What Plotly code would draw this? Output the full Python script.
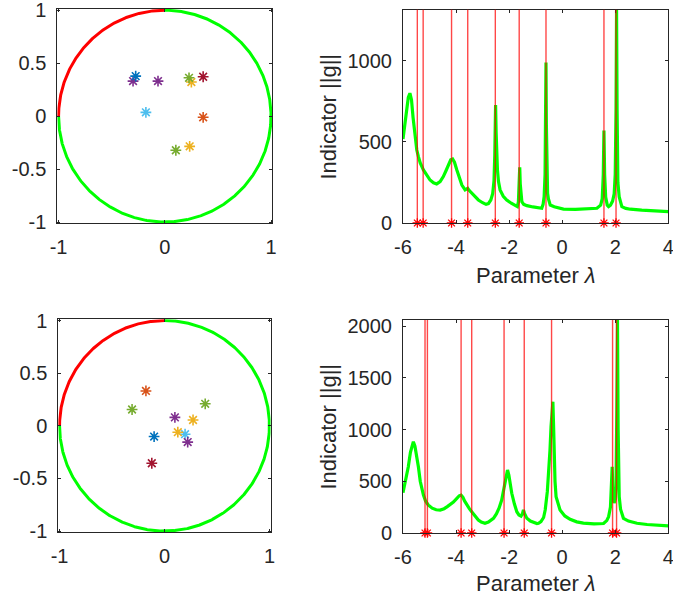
import numpy as np
import plotly.graph_objects as go

# ---------------- data ----------------
# unit-circle arcs (degrees)
red_arc_deg = [90, 180]
green_arc_deg = [180, 450]

# eigenvalues inside the unit circle
ev1_re = [0.250, -0.299, 0.228, -0.178, 0.361, -0.274, 0.361, 0.234, -0.064, 0.104]
ev1_im = [0.322, 0.331, 0.362, 0.036, 0.372, 0.378, -0.011, -0.285, 0.331, -0.322]
ev2_re = [0.272, 0.099, -0.309, 0.196, -0.121, -0.099, -0.177, 0.127, 0.221, 0.388]
ev2_im = [0.055, 0.080, 0.155, -0.080, -0.356, -0.102, 0.331, -0.061, -0.155, 0.209]

# indicator curves
lam1 = [-6.00, -5.95, -5.88, -5.80, -5.74, -5.68, -5.62, -5.55, -5.48, -5.42, -5.35, -5.23,
        -5.10, -4.98, -4.85, -4.73, -4.60, -4.48, -4.38, -4.29, -4.20, -4.13, -4.06, -3.97,
        -3.88, -3.78, -3.66, -3.60, -3.56, -3.50, -3.41, -3.30, -3.16, -3.00, -2.87, -2.78,
        -2.69, -2.62, -2.57, -2.54, -2.52, -2.51, -2.49, -2.47, -2.44, -2.40, -2.34, -2.22,
        -2.09, -1.92, -1.77, -1.69, -1.65, -1.62, -1.60, -1.58, -1.55, -1.52, -1.45, -1.33,
        -1.10, -0.90, -0.77, -0.72, -0.68, -0.645, -0.625, -0.61, -0.595, -0.575, -0.55,
        -0.52, -0.45, -0.30, 0.05, 0.50, 0.80, 1.10, 1.31, 1.45, 1.51, 1.55, 1.575, 1.60,
        1.64, 1.70, 1.75, 1.82, 1.90, 1.96, 2.00, 2.03, 2.05, 2.07, 2.10, 2.15, 2.25, 2.40,
        2.57, 3.00, 3.50, 4.00]
g1 = [518, 590, 680, 775, 800, 760, 650, 532, 450, 409, 370, 327,
      290, 265, 248, 241, 255, 286, 322, 358, 390, 395, 375, 327,
      275, 234, 204, 208, 214, 200, 183, 162, 142, 125, 115, 120,
      142, 180, 260, 420, 620, 728, 560, 420, 327, 255, 204, 165,
      142, 122, 111, 101, 130, 250, 344, 240, 160, 131, 115, 107,
      99, 93, 91, 115, 162, 300, 600, 989, 600, 300, 183,
      150, 111, 100, 86, 84, 85, 88, 91, 110, 150, 300, 570, 300,
      160, 110, 101, 110, 135, 180, 300, 700, 1315, 700, 250, 160, 101, 90,
      85, 79, 74, 70]
lines1 = [-5.46, -5.24, -4.17, -3.56, -2.52, -1.62, -0.61, 1.575, 2.03]

lam2 = [-6.00, -5.92, -5.85, -5.80, -5.72, -5.65, -5.61, -5.55, -5.48, -5.42, -5.35, -5.28,
        -5.23, -5.15, -5.05, -4.90, -4.75, -4.60, -4.45, -4.33, -4.23, -4.10, -3.97, -3.88,
        -3.81, -3.74, -3.68, -3.60, -3.50, -3.41, -3.28, -3.16, -3.05, -2.91, -2.78, -2.68,
        -2.59, -2.48, -2.38, -2.28, -2.20, -2.12, -2.06, -2.01, -1.96, -1.90, -1.80, -1.71,
        -1.63, -1.55, -1.50, -1.46, -1.42, -1.38, -1.33, -1.20, -1.08, -0.95, -0.89, -0.80,
        -0.70, -0.64, -0.56, -0.52, -0.46, -0.42, -0.38, -0.35, -0.32, -0.30, -0.27, -0.23,
        -0.15, -0.08, 0.10, 0.30, 0.55, 0.80, 1.20, 1.56, 1.68, 1.75, 1.82, 1.86, 1.885,
        1.91, 1.93, 1.96, 2.00, 2.03, 2.06, 2.085, 2.11, 2.15, 2.20, 2.31, 2.50, 2.82, 3.20,
        3.60, 4.00]
g2 = [390, 480, 570, 641, 780, 870, 883, 840, 740, 641, 500, 420,
      367, 310, 271, 240, 225, 222, 235, 255, 271, 300, 335, 360,
      367, 345, 310, 271, 235, 206, 160, 126, 105, 94, 105, 125,
      142, 185, 240, 319, 430, 560, 609, 560, 470, 384, 280, 206,
      175, 164, 185, 222, 190, 160, 142, 115, 100, 92, 94, 110,
      150, 222, 400, 545, 800, 1028, 1200, 1270, 1000, 706, 500, 351,
      270, 222, 165, 132, 108, 96, 88, 92, 120, 158, 250, 450, 641,
      400, 300, 290, 330, 450, 1200, 2060, 1000, 351, 230, 142, 115, 94, 82,
      74, 68]
lines2 = [-5.17, -5.08, -3.81, -3.41, -2.19, -1.43, -0.40, 1.90, 2.05]

# tick labels
circ_xticks = [-1, 0, 1]
circ_xtext = ["-1", "0", "1"]
circ_yticks = [-1, -0.5, 0, 0.5, 1]
circ_ytext = ["-1", "-0.5", "0", "0.5", "1"]
lam_ticks = [-6, -4, -2, 0, 2, 4]
lam_text = ["-6", "-4", "-2", "0", "2", "4"]
g1_ticks = [0, 500, 1000]
g2_ticks = [0, 500, 1000, 1500, 2000]

# ---------------- style ----------------
W, H = 673, 602
PALETTE = ["#0072BD", "#D95319", "#EDB120", "#7E2F8E", "#77AC30", "#4DBEEE", "#A2142F"]
ev_colors = [PALETTE[(2 + i) % 7] for i in range(10)]
GREEN = "#00FF00"
RED = "#FF0000"
AX = "#262626"
FONT = "Liberation Sans, Arial, Helvetica, sans-serif"


def dom_x(a, b):
    return [a / W, b / W]


def dom_y(top, bottom):
    return [1 - bottom / H, 1 - top / H]


fig = go.Figure()


def arc(deg, n=200):
    t = np.deg2rad(np.linspace(deg[0], deg[1], n))
    return np.cos(t), np.sin(t)


for (xa, ya, evr, evi) in [("x", "y", ev1_re, ev1_im), ("x3", "y3", ev2_re, ev2_im)]:
    cx, cy = arc(green_arc_deg, 600)
    fig.add_trace(go.Scatter(x=cx, y=cy, mode="lines", line=dict(color=GREEN, width=3),
                             xaxis=xa, yaxis=ya, showlegend=False, hoverinfo="skip"))
    cx, cy = arc(red_arc_deg, 200)
    fig.add_trace(go.Scatter(x=cx, y=cy, mode="lines", line=dict(color=RED, width=3),
                             xaxis=xa, yaxis=ya, showlegend=False, hoverinfo="skip"))
    fig.add_trace(go.Scatter(x=evr, y=evi, mode="markers",
                             marker=dict(symbol="asterisk-open", size=9, color=ev_colors,
                                         line=dict(color=ev_colors, width=1.6)),
                             xaxis=xa, yaxis=ya, showlegend=False))

for (xa, ya, lam, g, lines) in [("x2", "y2", lam1, g1, lines1), ("x4", "y4", lam2, g2, lines2)]:
    fig.add_trace(go.Scatter(x=lam, y=g, mode="lines", line=dict(color=GREEN, width=3.2),
                             xaxis=xa, yaxis=ya, showlegend=False))
    for lx in lines:
        fig.add_shape(type="line", x0=lx, x1=lx, y0=0, y1=1, xref=xa, yref=ya + " domain",
                      line=dict(color="rgba(255,0,0,0.72)", width=1.4), layer="above")
    fig.add_trace(go.Scatter(x=lines, y=[0] * len(lines), mode="markers",
                             marker=dict(symbol="asterisk-open", size=8, color=RED,
                                         line=dict(color=RED, width=1.3)),
                             cliponaxis=False, xaxis=xa, yaxis=ya, showlegend=False))

axis_common = dict(showline=True, linecolor=AX, linewidth=1, mirror="ticks", ticks="inside",
                   ticklen=3, tickcolor=AX, tickwidth=1, showgrid=False, zeroline=False,
                   automargin=False, ticklabeloverflow="allow",
                   tickfont=dict(family=FONT, size=20, color=AX), ticklabelstandoff=6)

fig.update_layout(
    width=W, height=H, margin=dict(l=0, r=0, t=0, b=0),
    paper_bgcolor="white", plot_bgcolor="white",
    xaxis=dict(domain=dom_x(57.3, 272.3), range=[-1.012, 1.012], anchor="y",
               tickvals=circ_xticks, ticktext=circ_xtext, **axis_common),
    yaxis=dict(domain=dom_y(9, 223.3), range=[-1.012, 1.012], anchor="x",
               tickvals=circ_yticks, ticktext=circ_ytext, **axis_common),
    xaxis2=dict(domain=dom_x(403, 668.3), range=[-6, 4.0005], anchor="y2",
                tickvals=lam_ticks, ticktext=lam_text, **axis_common),
    yaxis2=dict(domain=dom_y(9.7, 223), range=[0, max(g1)], anchor="x2",
                tickvals=g1_ticks, **axis_common),
    xaxis3=dict(domain=dom_x(58.3, 270.7), range=[-1.012, 1.012], anchor="y3",
                tickvals=circ_xticks, ticktext=circ_xtext, **axis_common),
    yaxis3=dict(domain=dom_y(319.3, 532.3), range=[-1.012, 1.012], anchor="x3",
                tickvals=circ_yticks, ticktext=circ_ytext, **axis_common),
    xaxis4=dict(domain=dom_x(403, 668.3), range=[-6, 4.0005], anchor="y4",
                tickvals=lam_ticks, ticktext=lam_text, **axis_common),
    yaxis4=dict(domain=dom_y(320, 533), range=[0, max(g2)], anchor="x4",
                tickvals=g2_ticks, **axis_common),
)

title_font = dict(family=FONT, size=22, color=AX)
for (xc, yc) in [(328, 116.5), (328, 426.5)]:
    fig.add_annotation(text="Indicator ||g||", x=xc / W, y=1 - yc / H, xref="paper", yref="paper",
                       textangle=-90, showarrow=False, xanchor="center", yanchor="middle",
                       font=title_font)
for (xc, yc) in [(536, 275), (536, 583)]:
    fig.add_annotation(text="Parameter <i>λ</i>", x=xc / W, y=1 - yc / H, xref="paper", yref="paper",
                       showarrow=False, xanchor="center", yanchor="middle", font=title_font)

fig.write_html("out.html", config={"displayModeBar": False},
               post_script="document.body.style.margin='0px';")
